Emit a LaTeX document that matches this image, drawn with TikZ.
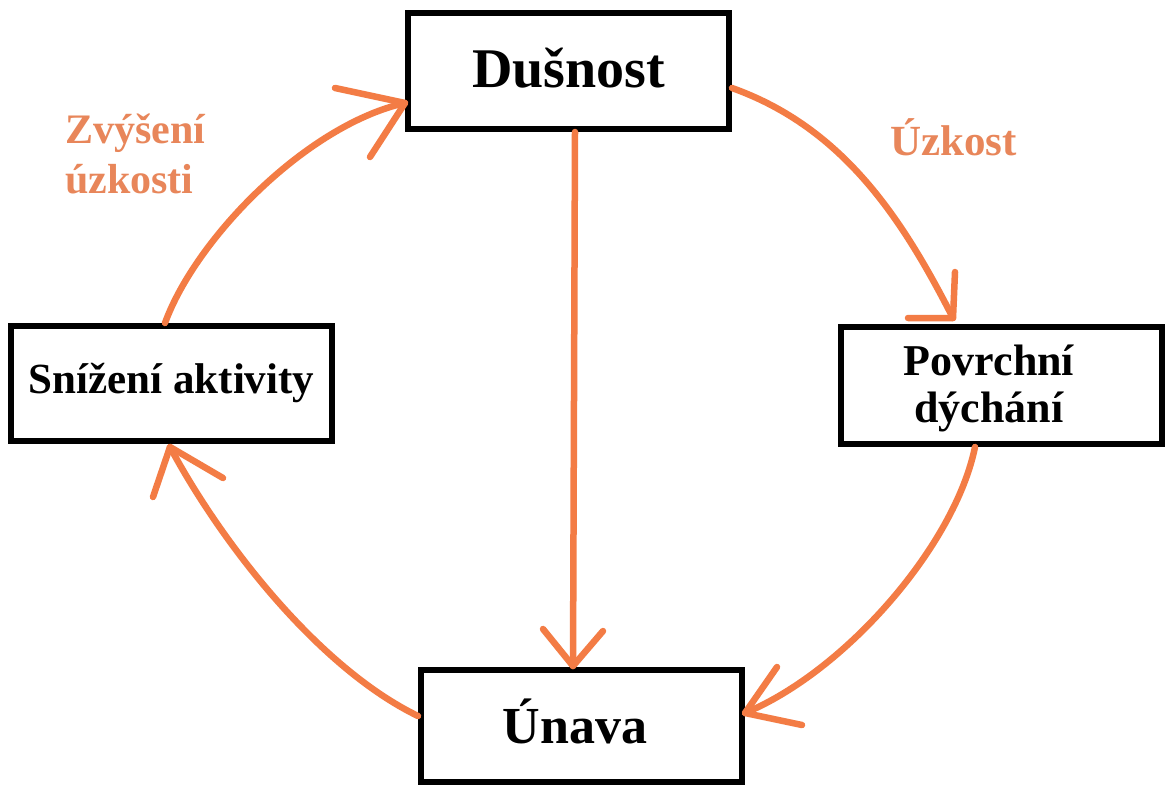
\documentclass[tikz,border=0pt]{standalone}
\usepackage{fontspec}
\setmainfont{Liberation Serif}
\usetikzlibrary{calc}
\definecolor{arrorange}{HTML}{F37C45}
\definecolor{lblorange}{HTML}{E8865A}
\begin{document}
\begin{tikzpicture}[x=1pt,y=-1pt,
  box/.style={draw=black, line width=6pt, fill=white, inner sep=0pt, minimum width=321pt},
  conn/.style={draw=arrorange, line width=6.5pt, line cap=round, line join=round},
  lbl/.style={text=lblorange, inner sep=0pt}]
\useasboundingbox (0,0) rectangle (1167,787);
\fill[white] (0,0) rectangle (1167,787);
% boxes
\node[box, minimum height=116pt, text height=37pt, text depth=5pt,
      font=\fontsize{56}{60}\selectfont\bfseries] (dus) at (568.5,71) {Dušnost};
\node[box, minimum height=115pt, text height=32pt, text depth=13pt,
      font=\fontsize{43}{47}\selectfont\bfseries] (snz) at (171.5,383.5) {Snížení aktivity};
\node[box, minimum height=117pt, text height=33pt, text depth=54pt,
      font=\fontsize{44}{47}\selectfont\bfseries] (pov) at (1001.5,385.5)
      {\begin{tabular}[t]{@{}c@{}}Povrchní\\dýchání\end{tabular}\hspace{25pt}\null};
\node[box, minimum height=112pt, text height=40pt, text depth=6pt,
      font=\fontsize{52}{56}\selectfont\bfseries] (una) at (581.5,726) {Únava\hspace{13pt}\null};
% labels
\node[lbl, anchor=base west, font=\fontsize{42}{50}\selectfont\bfseries] (lz) at (65,143)
      {\begin{tabular}[t]{@{}l@{}}Zvýšení\\úzkosti\end{tabular}};
\node[lbl, anchor=base west, font=\fontsize{43}{47}\selectfont\bfseries] (lu) at (890,155) {Úzkost};
% connector end points
\coordinate (s1) at ($(dus.south)+(6.5,0)$);
\coordinate (t1) at ($(una.north)+(-8.5,-1)$);
\coordinate (s2) at ($(snz.north)+(-6.5,0)$);
\coordinate (t2) at ($(dus.west)+(0,32)$);
\coordinate (s3) at ($(dus.east)+(0,17)$);
\coordinate (t3) at ($(pov.north)+(-48.5,-6)$);
\coordinate (s4) at ($(pov.south)+(-26.5,0)$);
\coordinate (t4) at ($(una.east)+(0,-13)$);
\coordinate (s5) at ($(una.west)+(0,-10)$);
\coordinate (t5) at ($(snz.south)+(-1.5,3)$);
% connectors
\draw[conn] (s1) -- (t1);
\draw[conn] ($(t1)+(-30,-37)$) -- (t1) -- ($(t1)+(30,-35)$);
\draw[conn] (s2) .. controls (196,238) and (307,125) .. (t2);
\draw[conn] ($(t2)+(-70,-15)$) -- (t2) -- ($(t2)+(-35,54)$);
\draw[conn] (s3) .. controls (844,128) and (903,220) .. (t3);
\draw[conn] ($(t3)+(2,-46)$) -- (t3) -- ($(t3)+(-45,0)$);
\draw[conn] (s4) .. controls (955,545) and (846,671) .. (t4);
\draw[conn] ($(t4)+(32,-46)$) -- (t4) -- ($(t4)+(57,12)$);
\draw[conn] (s5) .. controls (319,668) and (222,544) .. (t5);
\draw[conn] ($(t5)+(-17,50)$) -- (t5) -- ($(t5)+(53,31)$);
\end{tikzpicture}
\end{document}
